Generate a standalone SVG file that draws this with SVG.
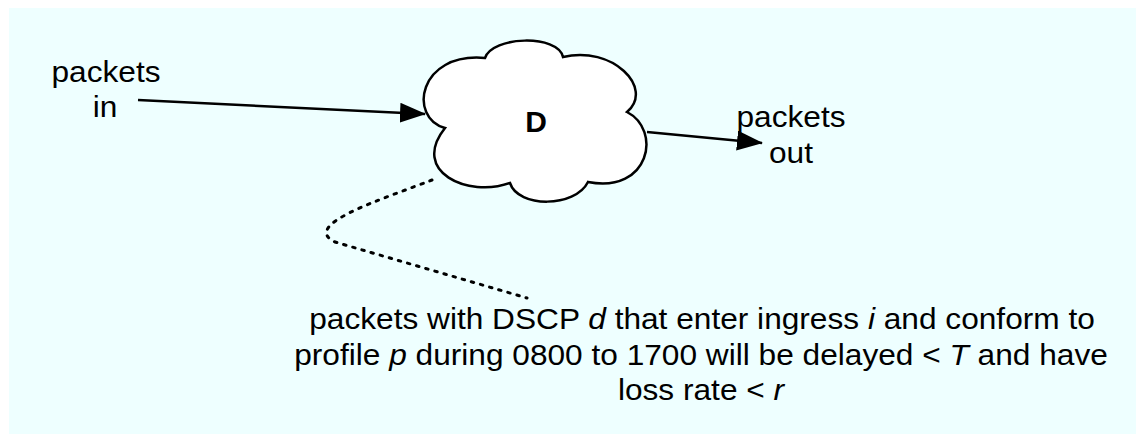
<svg xmlns="http://www.w3.org/2000/svg" width="1136" height="434" viewBox="0 0 1136 434">
<defs>
<style>
.t{font-family:"Liberation Sans",Arial,sans-serif;font-size:30px;fill:#000;}
.b{font-weight:bold;}
.c{stroke:#000;stroke-width:2.5;fill:none;}
.dot{stroke:#000;stroke-width:3;fill:none;stroke-dasharray:2.5 7;stroke-linecap:round;}
</style>
<marker id="ah" viewBox="0 0 26 20" refX="25" refY="10" markerWidth="26" markerHeight="20" markerUnits="userSpaceOnUse" orient="auto">
<path d="M0,0 L26,10 L0,20 Z" fill="#000"/>
</marker>
</defs>
<rect x="0" y="0" width="1136" height="434" fill="#fff"/>
<rect x="9" y="8" width="1127" height="426" fill="#eeffff"/>
<g id="connectors">
<line class="c" x1="138" y1="100" x2="425" y2="114" marker-end="url(#ah)"/>
<line class="c" x1="647" y1="132" x2="762" y2="143" marker-end="url(#ah)"/>
<path class="dot" d="M432,180 C380,200 300,225 335,242 L527,298"/>
</g>
<g id="cloud">
<path d="M485,58 C492,36 558,34 563,57 C612,45 655,88 627,112 C662,130 650,194 588,182 C575,208 518,208 510,183 C468,198 410,172 445,128 C408,118 418,52 485,58 Z" fill="#fff" stroke="#000" stroke-width="2.5"/>
<text class="t b" text-anchor="middle" transform="translate(536,132) scale(1,1)">D</text>
</g>
<g id="packets-in">
<text class="t" text-anchor="middle" transform="translate(106,82) scale(1.055,1)">packets</text>
<text class="t" text-anchor="middle" transform="translate(105,117) scale(1.055,1)">in</text>
</g>
<g id="packets-out">
<text class="t" text-anchor="middle" transform="translate(791,127) scale(1.055,1)">packets</text>
<text class="t" text-anchor="middle" transform="translate(791,163) scale(1.055,1)">out</text>
</g>
<g id="note">
<text class="t" text-anchor="middle" transform="translate(702,329) scale(1.055,1)">packets with DSCP <tspan font-style="italic">d</tspan> that enter ingress <tspan font-style="italic">i</tspan> and conform to</text>
<text class="t" text-anchor="middle" transform="translate(701,365) scale(1.055,1)">profile <tspan font-style="italic">p</tspan> during 0800 to 1700 will be delayed &lt; <tspan font-style="italic">T</tspan> and have</text>
<text class="t" text-anchor="middle" transform="translate(701,400) scale(1.055,1)">loss rate &lt; <tspan font-style="italic">r</tspan></text>
</g>
</svg>
